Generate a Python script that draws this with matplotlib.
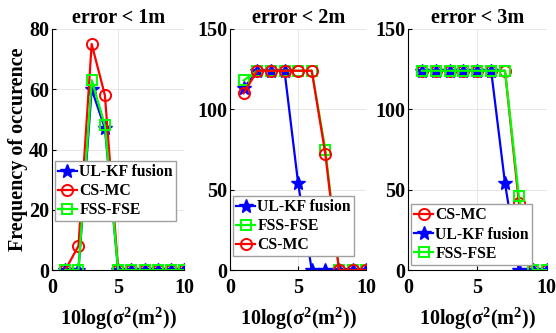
import matplotlib
matplotlib.use("Agg")
import matplotlib.pyplot as plt

plt.rcParams['font.family'] = ['Liberation Serif', 'DejaVu Serif']
plt.rcParams['font.weight'] = 'bold'
plt.rcParams['mathtext.fontset'] = 'custom'
plt.rcParams['mathtext.rm'] = 'Liberation Serif:bold'
plt.rcParams['mathtext.it'] = 'Liberation Serif:bold'
plt.rcParams['mathtext.bf'] = 'Liberation Serif:bold'

x = [1, 2, 3, 4, 5, 6, 7, 8, 9, 10]

# error < 1m
ulkf_1 = [0, 0, 60, 47, 0, 0, 0, 0, 0, 0]
csmc_1 = [0, 8, 75, 58, 0, 0, 0, 0, 0, 0]
fss_1 = [0, 0, 63, 48, 0, 0, 0, 0, 0, 0]

# error < 2m
ulkf_2 = [113, 124, 124, 124, 54, 0, 0, 0, 0, 0]
fss_2 = [118, 124, 124, 124, 124, 124, 75, 0, 0, 0]
csmc_2 = [110, 124, 124, 124, 124, 124, 72, 0, 0, 0]

# error < 3m
csmc_3 = [124, 124, 124, 124, 124, 124, 124, 42, 0, 0]
ulkf_3 = [124, 124, 124, 124, 124, 124, 54, 0, 0, 0]
fss_3 = [124, 124, 124, 124, 124, 124, 124, 46, 0, 0]

titles = ['error < 1m', 'error < 2m', 'error < 3m']
xlab = r'10log($\mathbf{\sigma^2(m^2)}$)'

sty = {
    'UL-KF fusion': dict(color='#0000ff', marker='*', ms=10, mfc='#0000ff', mec='#0000ff'),
    'CS-MC': dict(color='#ff0000', marker='o', ms=8, mfc='none', mec='#ff0000', mew=1.4),
    'FSS-FSE': dict(color='#00ff00', marker='s', ms=6.5, mfc='none', mec='#00ff00', mew=1.4),
}

fig = plt.figure(figsize=(5.56, 3.33), dpi=100)
boxes = [[0.0935, 0.189, 0.238, 0.724],
         [0.4137, 0.189, 0.245, 0.724],
         [0.734, 0.189, 0.249, 0.724]]
series = [
    [('UL-KF fusion', ulkf_1), ('CS-MC', csmc_1), ('FSS-FSE', fss_1)],
    [('UL-KF fusion', ulkf_2), ('FSS-FSE', fss_2), ('CS-MC', csmc_2)],
    [('CS-MC', csmc_3), ('UL-KF fusion', ulkf_3), ('FSS-FSE', fss_3)],
]
leg_loc = [(0.01, 0.195), (0.01, 0.05), (0.01, 0.015)]

for i in range(3):
    ax = fig.add_axes(boxes[i])
    for name, vals in series[i]:
        ax.plot(x, vals, lw=1.6, label=name, **sty[name])
    ax.set_xlim(0, 10)
    if i == 0:
        ax.set_ylim(0, 80)
        ax.set_yticks([0, 20, 40, 60, 80])
        ax.set_ylabel('Frequency of occurence', fontsize=14.5, fontweight='bold', labelpad=1)
    else:
        ax.set_ylim(0, 150)
        ax.set_yticks([0, 50, 100, 150])
    ax.set_xticks([0, 5, 10])
    ax.grid(True, color='#e6e6e6', lw=0.7)
    ax.set_axisbelow(True)
    for s in ['top', 'right']:
        ax.spines[s].set_visible(False)
    ax.tick_params(labelsize=14.5, direction='in', length=3)
    ax.tick_params(axis='y', pad=2)
    ax.tick_params(axis='x', pad=6)
    ax.set_title(titles[i], fontsize=14.5, fontweight='bold', pad=4)
    ax.set_xlabel(xlab, fontsize=14.5, fontweight='bold', labelpad=5)
    ax.legend(loc='lower left', bbox_to_anchor=leg_loc[i], frameon=True,
              fancybox=False, edgecolor='#a0a0a0', framealpha=1, handlelength=1.2,
              handletextpad=0.15, borderpad=0.2, labelspacing=0.2, borderaxespad=0.1,
              prop={'weight': 'bold', 'size': 11.3})

fig.savefig('out.png', dpi=100)
